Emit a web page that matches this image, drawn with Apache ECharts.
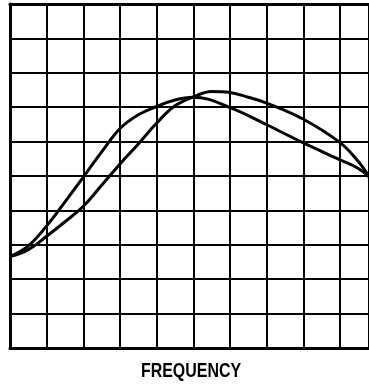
<!DOCTYPE html>
<html>
<head>
<meta charset="utf-8">
<script src="https://cdn.jsdelivr.net/npm/echarts@6/dist/echarts.min.js"></script>
<style>
  html, body { margin: 0; padding: 0; background: #fff; }
  #chart { width: 369px; height: 384px; }
</style>
</head>
<body>
<div id="chart"></div>
<script>
// Response curve that rises steeply and peaks early
const freqA  = [0, 0.5, 1, 1.5, 2, 2.5, 3, 3.5, 4, 4.5, 5, 6, 7, 8, 9, 9.5, 9.79];
const levelA = [2.66, 2.97, 3.55, 4.25, 4.97, 5.70, 6.38, 6.78, 7.02, 7.21, 7.29, 6.99, 6.49, 5.96, 5.47, 5.22, 4.98];

// Response curve that rises later and peaks higher
const freqB  = [0, 0.5, 1, 1.5, 2, 2.5, 3, 3.5, 4, 4.5, 5, 5.5, 6, 6.5, 7, 8, 9, 9.5, 9.79];
const levelB = [2.66, 2.86, 3.25, 3.67, 4.12, 4.73, 5.35, 5.93, 6.54, 7.04, 7.30, 7.46, 7.43, 7.29, 7.12, 6.65, 5.97, 5.42, 4.98];

const axisTitle = 'FREQUENCY';

const pairs = (xs, ys) => xs.map((x, i) => [x, ys[i]]);

const chart = echarts.init(document.getElementById('chart'));
const gridLine = { color: '#000', width: 2 };
const frameLine = { color: '#000', width: 3 };
const hidden = { show: false };

chart.setOption({
  animation: false,
  grid: { left: 10, right: 0, top: 4, bottom: 36 },
  xAxis: [
    {
      type: 'value', min: 0, max: 9.79, interval: 1, position: 'bottom',
      axisLine: { show: true, lineStyle: frameLine },
      axisTick: hidden, axisLabel: hidden,
      splitLine: { show: true, lineStyle: gridLine }
    },
    {
      type: 'value', min: 0, max: 9.79, interval: 1, position: 'top',
      axisLine: { show: true, lineStyle: frameLine },
      axisTick: hidden, axisLabel: hidden, splitLine: hidden
    }
  ],
  yAxis: {
    type: 'value', min: 0, max: 10, interval: 1,
    axisLine: { show: true, lineStyle: frameLine },
    axisTick: hidden, axisLabel: hidden,
    splitLine: { show: true, lineStyle: gridLine }
  },
  // condensed axis caption under the plot
  graphic: [{
    type: 'text', x: 191, y: 371, scaleX: 0.76, silent: true,
    style: {
      text: axisTitle, fill: '#000',
      font: 'bold 21px "Liberation Sans", Arial, sans-serif',
      align: 'center', verticalAlign: 'middle',
      textAlign: 'center', textVerticalAlign: 'middle'
    }
  }],
  series: [
    {
      type: 'line', data: pairs(freqA, levelA), smooth: 0.4,
      showSymbol: false, lineStyle: { color: '#000', width: 3 }, z: 5
    },
    {
      type: 'line', data: pairs(freqB, levelB), smooth: 0.4,
      showSymbol: false, lineStyle: { color: '#000', width: 3 }, z: 5
    }
  ]
});
</script>
</body>
</html>
